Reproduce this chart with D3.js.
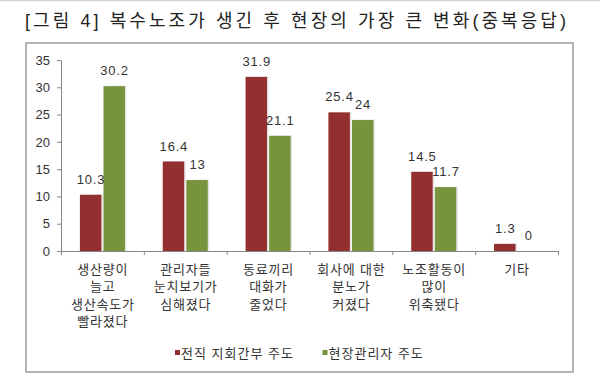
<!DOCTYPE html>
<html>
<head>
<meta charset="utf-8">
<script src="https://cdn.jsdelivr.net/npm/d3@7"></script>
<style>
  body{margin:0;background:#fff;}
  text{font-family:"Liberation Sans","Noto Sans CJK KR",sans-serif;fill:#333;}
</style>
</head>
<body>
<svg id="chart" width="600" height="392"></svg>
<script>
const title = "[그림 4] 복수노조가 생긴 후 현장의 가장 큰 변화(중복응답)"
const categories = [
  ["생산량이","늘고","생산속도가","빨라졌다"],
  ["관리자들","눈치보기가","심해졌다"],
  ["동료끼리","대화가","줄었다"],
  ["회사에 대한","분노가","커졌다"],
  ["노조활동이","많이","위축됐다"],
  ["기타"]
]
const seriesNames = ["전직 지회간부 주도","현장관리자 주도"]
const formerLeaders = [10.3,16.4,31.9,25.4,14.5,1.3]
const siteManagers = [30.2,13,21.1,24,11.7,0]
const yTicks = [0,5,10,15,20,25,30,35]
const colors = ["#93302f","#77933c"]

const svg = d3.select("#chart")

// scan artifact line at the very top + frame
svg.append("line").attr("x1",0).attr("x2",600).attr("y1",0.5).attr("y2",0.5)
   .attr("stroke","#d4d4d4").attr("stroke-width",1.5)
svg.append("rect").attr("x",26).attr("y",43).attr("width",547).attr("height",329)
   .attr("fill","none").attr("stroke","#9a9a9a").attr("stroke-width",1.5)

svg.append("text").attr("x",25).attr("y",27)
   .attr("textLength",541).attr("lengthAdjust","spacing")
   .style("font-size","18px").style("fill","#222")
   .text(title)

const plotL = 61, plotR = 558, plotT = 60, plotB = 251
const idx = categories.map((d,i)=>i)
const x0 = d3.scaleBand().domain(idx).range([plotL,plotR])
const x1 = d3.scaleBand().domain([0,1]).range([18.9,x0.bandwidth()-18.9]).paddingInner(0.09)
const y = d3.scaleLinear().domain([0,35]).range([plotB,plotT])

// y axis
const yAxis = svg.append("g").attr("transform",`translate(${plotL},0)`)
  .call(d3.axisLeft(y).tickValues(yTicks).tickSize(4).tickPadding(7).tickSizeOuter(0))
yAxis.selectAll("text").style("font-size","13px").style("font-family",null)
yAxis.selectAll("line,path").attr("stroke","#868686")

// x axis with ticks on category boundaries
const xb = d3.scaleLinear().domain([0,categories.length]).range([plotL,plotR])
const xAxis = svg.append("g").attr("transform",`translate(0,${plotB})`)
  .call(d3.axisBottom(xb).ticks(categories.length).tickFormat("").tickSize(4).tickSizeOuter(0))
xAxis.selectAll("line,path").attr("stroke","#868686")

const rows = idx.map(i=>[formerLeaders[i],siteManagers[i]])
const groups = svg.append("g").selectAll("g").data(rows).join("g")
  .attr("transform",(d,i)=>`translate(${x0(i)},0)`)

groups.selectAll("rect.shadow").data(d=>d).join("rect").attr("class","shadow")
  .attr("x",(d,j)=>x1(j)+1.5).attr("y",d=>y(d)-0.5)
  .attr("width",x1.bandwidth()).attr("height",d=>plotB-y(d))
  .attr("fill","#e4e4e4")
groups.selectAll("rect.bar").data(d=>d).join("rect").attr("class","bar")
  .attr("x",(d,j)=>x1(j)).attr("y",d=>y(d))
  .attr("width",x1.bandwidth()).attr("height",d=>plotB-y(d))
  .attr("fill",(d,j)=>colors[j])
groups.selectAll("text").data(d=>d).join("text")
  .attr("x",(d,j)=>x1(j)+x1.bandwidth()/2+0.4).attr("y",d=>y(d)-11)
  .attr("text-anchor","middle").style("font-size","13px").style("letter-spacing","0.8px")
  .text(d=>d)

// redraw axis line on top of shadows
svg.append("line").attr("x1",plotL).attr("x2",plotR).attr("y1",plotB+0.5).attr("y2",plotB+0.5)
   .attr("stroke","#868686")

// category labels
svg.append("g").selectAll("text").data(categories).join("text")
  .attr("text-anchor","middle").style("font-size","13px").style("letter-spacing","0.8px")
  .attr("transform",(d,i)=>`translate(${x0(i)+x0.bandwidth()/2+0.4},273.5)`)
  .selectAll("tspan").data(d=>d).join("tspan")
  .attr("x",0).attr("y",(d,k)=>k*17.6).text(d=>d)

// legend
const legendX = [175,322.5]
const lg = svg.append("g").selectAll("g").data(seriesNames).join("g")
  .attr("transform",(d,i)=>`translate(${legendX[i]},350)`)
lg.append("rect").attr("width",5).attr("height",5).attr("fill",(d,i)=>colors[i])
lg.append("text").attr("x",6).attr("y",7.5).style("font-size","13px").style("letter-spacing","1px")
  .text(d=>d)
</script>
</body>
</html>
